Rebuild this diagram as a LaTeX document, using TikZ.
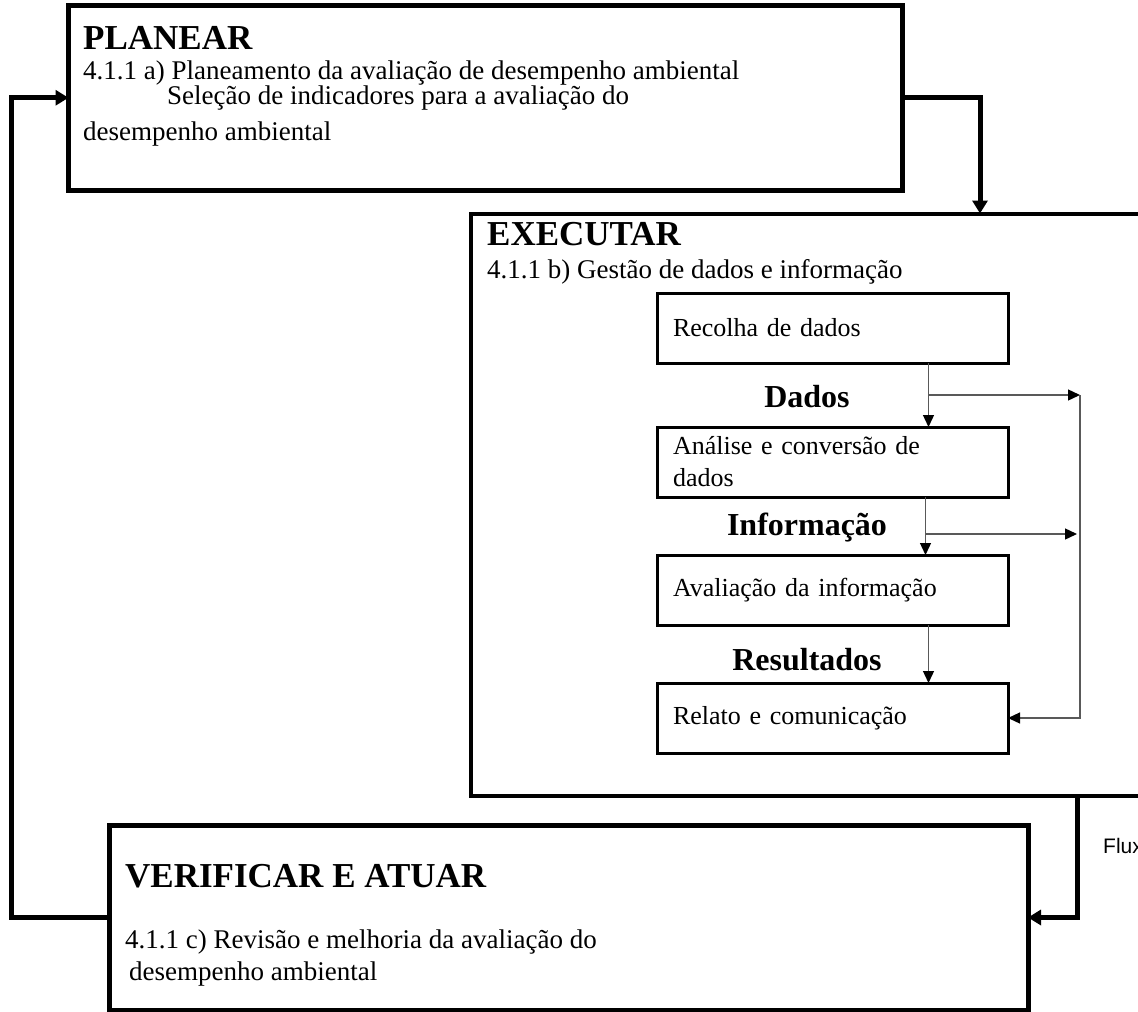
\documentclass[tikz,border=0pt]{standalone}
\usepackage{fontspec}
\setmainfont{Liberation Serif}
\newfontfamily\fluxfont{Liberation Sans}
\usetikzlibrary{positioning,arrows.meta}

\begin{document}
\begin{tikzpicture}[x=1pt,y=-1pt]
\tikzstyle{bigbox}=[rectangle, draw=black, line width=5pt, outer sep=0pt, anchor=north west]
\tikzstyle{stepbox}=[rectangle, draw=black, line width=3pt, outer sep=0pt, minimum width=351pt, minimum height=70pt, text width=319pt, inner xsep=16pt, align=left, font=\fontsize{26}{32}\selectfont]
\tikzstyle{head}=[anchor=base west, inner sep=0pt, font=\bfseries\fontsize{35}{42}\selectfont]
\tikzstyle{body}=[anchor=base west, inner sep=0pt, font=\fontsize{27}{32}\selectfont]
\tikzstyle{tag}=[anchor=base, inner sep=0pt, font=\bfseries\fontsize{32}{38}\selectfont]
\tikzstyle{bigarrow}=[-{Triangle[length=13pt,width=15pt]}, line width=5pt]
\tikzstyle{flow}=[-{Triangle[length=12pt,width=11pt,color=black]}, line width=1.3pt, draw=black!65]
  \useasboundingbox (0,0) rectangle (1138,1012);
  \clip (0,0) rectangle (1138,1012);
  % the three phases
  \node[bigbox, minimum width=834pt, minimum height=185.5pt] (plan) at (68.5,5) {};
  \node[bigbox, line width=4pt, minimum width=700pt, minimum height=582.5pt] (exec) at (470.5,213.5) {};
  \node[bigbox, minimum width=919pt, minimum height=185pt] (verif) at (109,825) {};
  \node[head] (plantitle) at (83,49) {PLANEAR};
  % base anchor sits on the last line
  \node[body, align=left, font=\fontsize{27}{22}\selectfont] (plana) at (83,140)
    {4.1.1 a) Planeamento da avaliação de desempenho ambiental\\
     \hspace*{84pt}Seleção de indicadores para a avaliação do\\[10pt]
     desempenho ambiental};
  \node[head] (exectitle) at (487,245) {EXECUTAR};
  \node[body] (execa) at (487,278) {4.1.1 b) Gestão de dados e informação};
  \node[head] (veriftitle) at (125,887) {VERIFICAR E ATUAR};
  \node[body] (verifa) at (125,948) {4.1.1 c) Revisão e melhoria da avaliação do};
  \node[body] (verifb) at (129,980) {desempenho ambiental};
  % data handling steps
  \node[stepbox, anchor=north west] (recolha) at (657,293) {Recolha de dados};
  \node[stepbox, below=64pt of recolha] (analise) {Análise e conversão de\\dados};
  \node[stepbox, below=58pt of analise] (avaliacao) {Avaliação da informação};
  \node[stepbox, below=58pt of avaliacao] (relato) {Relato e comunicação};
  \node[tag] (dados) at (807,407) {Dados};
  \node[tag] (info) at (807,535) {Informação};
  \node[tag] (result) at (807,670) {Resultados};
  \coordinate (d1) at (928.5,395);
  \coordinate (r1) at (1080,395);
  \coordinate (d2) at (925.5,534);
  \coordinate (r2) at (1077,534);
  \draw[flow] ([xshift=96pt]recolha.south) -- ([xshift=96pt]analise.north);
  \draw[flow] ([xshift=93pt]analise.south) -- ([xshift=93pt]avaliacao.north);
  \draw[flow] ([xshift=96pt]avaliacao.south) -- ([xshift=96pt]relato.north);
  \draw[flow] (d1) -- (r1);
  \draw[flow] (d2) -- (r2);
  \draw[flow] (r1) |- (relato.east);
  % cycle
  \draw[bigarrow] (plan.east) -| ([xshift=509.5pt]exec.north west);
  \draw[bigarrow] ([xshift=607pt]exec.south west) |- (verif.east);
  \draw[bigarrow] (verif.west) -- ++(-98,0) |- (plan.west);
  \node[anchor=base west, inner sep=0pt, font=\fluxfont\fontsize{21}{25}\selectfont] (flux) at (1103,853) {Flux};
\end{tikzpicture}
\end{document}
